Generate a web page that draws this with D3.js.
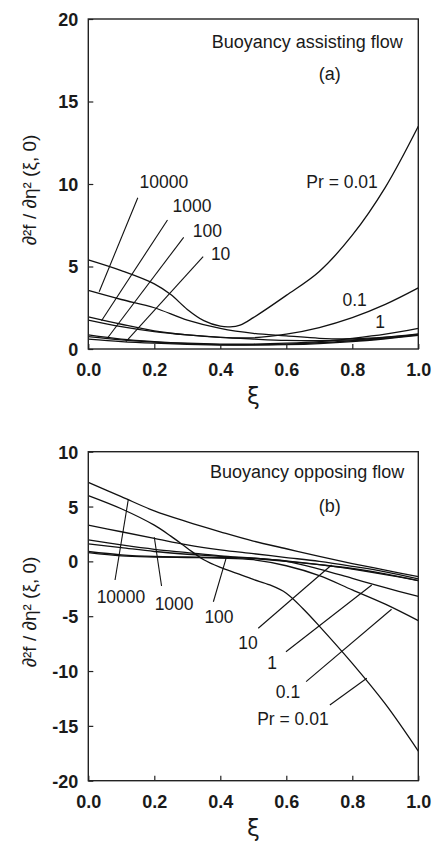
<!DOCTYPE html>
<html>
<head>
<meta charset="utf-8">
<script src="https://cdn.jsdelivr.net/npm/d3@7"></script>
<style>
	body { margin: 0; background: #fff; }
	svg { display: block; }
	.tick text { font-family: "Liberation Sans", Arial, sans-serif; font-weight: bold; font-size: 18px; fill: #1a1a1a; }
	.lbl { font-family: "Liberation Sans", Arial, sans-serif; font-size: 17.5px; fill: #1a1a1a; }
</style>
</head>
<body>
<div id="chart"></div>
<script>
// xi values and f''(xi,0), one array per Prandtl number
var prNames = ["0.01", "0.1", "1", "10", "100", "1000", "10000"];
var xTicks = [0, 0.2, 0.4, 0.6, 0.8, 1.0];
var yTicksA = [0, 5, 10, 15, 20];
var yTicksB = [-20, -15, -10, -5, 0, 5, 10];

// (a) buoyancy assisting flow
var assist001 = [[0,5.4],[0.1,4.75],[0.2,3.95],[0.25,3.3],[0.3,2.4],[0.35,1.72],[0.4,1.38],[0.43,1.34],[0.46,1.45],[0.5,1.9],[0.6,3.25],[0.7,4.7],[0.8,6.9],[0.9,9.8],[1.0,13.5]];
var assist01 = [[0,1.95],[0.1,1.5],[0.2,1.1],[0.3,0.85],[0.4,0.7],[0.5,0.68],[0.6,0.9],[0.7,1.3],[0.8,1.9],[0.9,2.7],[1.0,3.7]];
var assist1 = [[0,0.85],[0.1,0.6],[0.2,0.45],[0.3,0.35],[0.4,0.3],[0.5,0.3],[0.6,0.35],[0.7,0.45],[0.8,0.65],[0.9,0.9],[1.0,1.25]];
var assist10 = [[0,0.6],[0.1,0.45],[0.2,0.35],[0.3,0.28],[0.4,0.24],[0.5,0.23],[0.6,0.26],[0.7,0.33],[0.8,0.45],[0.9,0.62],[1.0,0.82]];
var assist100 = [[0,0.75],[0.1,0.55],[0.2,0.42],[0.3,0.32],[0.4,0.27],[0.5,0.26],[0.6,0.3],[0.7,0.38],[0.8,0.5],[0.9,0.65],[1.0,0.85]];
var assist1000 = [[0,1.75],[0.1,1.35],[0.2,1.05],[0.3,0.85],[0.4,0.7],[0.5,0.6],[0.6,0.52],[0.7,0.5],[0.8,0.55],[0.9,0.7],[1.0,0.88]];
var assist10000 = [[0,3.55],[0.1,3.0],[0.2,2.5],[0.3,1.75],[0.4,1.25],[0.5,0.95],[0.6,0.8],[0.7,0.65],[0.8,0.62],[0.9,0.72],[1.0,0.92]];

// (b) buoyancy opposing flow
var oppose001 = [[0,6.0],[0.1,4.8],[0.2,3.3],[0.25,2.3],[0.3,1.2],[0.35,0.15],[0.4,-0.55],[0.45,-1.1],[0.5,-1.65],[0.55,-2.15],[0.6,-2.9],[0.65,-4.3],[0.7,-5.9],[0.8,-9.3],[0.9,-13.0],[1.0,-17.3]];
var oppose01 = [[0,0.8],[0.1,0.5],[0.2,0.4],[0.3,0.35],[0.4,0.3],[0.5,0.15],[0.6,-0.4],[0.7,-1.3],[0.8,-2.6],[0.9,-3.9],[1.0,-5.4]];
var oppose1 = [[0,0.9],[0.1,0.6],[0.2,0.45],[0.3,0.4],[0.4,0.35],[0.5,0.3],[0.6,0.0],[0.7,-0.7],[0.8,-1.55],[0.9,-2.4],[1.0,-3.2]];
var oppose10 = [[0,1.6],[0.1,1.25],[0.2,0.9],[0.3,0.65],[0.4,0.45],[0.5,0.25],[0.6,0.0],[0.7,-0.3],[0.8,-0.65],[0.9,-1.15],[1.0,-1.75]];
var oppose100 = [[0,1.95],[0.1,1.5],[0.2,1.1],[0.3,0.8],[0.4,0.5],[0.5,0.3],[0.6,0.05],[0.7,-0.3],[0.8,-0.7],[0.9,-1.2],[1.0,-1.75]];
var oppose1000 = [[0,3.3],[0.1,2.7],[0.2,2.1],[0.3,1.5],[0.4,1.05],[0.5,0.7],[0.6,0.35],[0.7,0.0],[0.8,-0.45],[0.9,-0.95],[1.0,-1.6]];
var oppose10000 = [[0,7.2],[0.1,5.9],[0.2,4.6],[0.3,3.6],[0.4,2.7],[0.5,1.85],[0.6,1.15],[0.7,0.45],[0.8,-0.2],[0.9,-0.8],[1.0,-1.4]];

// curve labels: [text, xi, value] and leader lines [[xi,v],[xi,v]]
var labelsA = [["10000",0.229,9.76],["1000",0.314,8.3],["100",0.361,6.79],["10",0.401,5.39],
	["Pr = 0.01",0.769,9.76],["0.1",0.807,2.61],["1",0.884,1.27]];
var leadersA = [[[0.15,9.17],[0.033,3.47]],[[0.24,7.82],[0.04,1.71]],[[0.289,6.77],[0.06,0.71]],[[0.348,5.6],[0.114,0.44]]];
var labelsB = [["10000",0.099,-3.77],["1000",0.26,-4.43],["100",0.396,-5.65],["10",0.484,-8.02],
	["1",0.557,-9.84],["0.1",0.605,-12.49],["Pr = 0.01",0.62,-14.92]];
var leadersB = [[[0.121,5.6],[0.081,-1.7]],[[0.2,2.2],[0.222,-2.25]],[[0.419,0.43],[0.379,-3.68]],
	[[0.737,-0.33],[0.515,-6.1]],[[0.859,-2.15],[0.599,-8.24]],[[0.919,-4.37],[0.66,-10.97]],[[0.844,-10.66],[0.732,-13.1]]];

var W = 432, H = 843;
var svg = d3.select("#chart").append("svg").attr("width", W).attr("height", H);

function drawPanel(cfg){
	var x = d3.scaleLinear().domain([0, 1]).range([88.3, 418.3]);
	var y = d3.scaleLinear().domain(cfg.ydom).range([cfg.bottom, cfg.top]);
	var g = svg.append("g");

	var line = d3.line()
		.x(function(d){ return x(d[0]); })
		.y(function(d){ return y(d[1]); })
		.curve(d3.curveCatmullRom.alpha(0.5));

	g.selectAll("path.curve")
		.data(cfg.series)
		.enter()
		.append("path")
		.attr("class", "curve")
		.attr("d", line)
		.attr("fill", "none")
		.attr("stroke", "#111")
		.attr("stroke-width", 1.3);

	g.selectAll("line.leader")
		.data(cfg.leaders)
		.enter()
		.append("line")
		.attr("class", "leader")
		.attr("x1", function(d){ return x(d[0][0]); })
		.attr("y1", function(d){ return y(d[0][1]); })
		.attr("x2", function(d){ return x(d[1][0]); })
		.attr("y2", function(d){ return y(d[1][1]); })
		.attr("stroke", "#111")
		.attr("stroke-width", 1.1);

	g.selectAll("text.lbl")
		.data(cfg.labels)
		.enter()
		.append("text")
		.attr("class", "lbl")
		.attr("x", function(d){ return x(d[1]); })
		.attr("y", function(d){ return y(d[2]); })
		.attr("text-anchor", "middle")
		.text(function(d){ return d[0]; });

	// axes, ticks pointing inward
	var xa = g.append("g")
		.attr("transform", "translate(0," + cfg.bottom + ")")
		.call(d3.axisBottom(x).tickValues(xTicks).tickFormat(d3.format(".1f")).tickSizeInner(-5).tickSizeOuter(0).tickPadding(10));
	var ya = g.append("g")
		.attr("transform", "translate(" + x(0) + ",0)")
		.call(d3.axisLeft(y).tickValues(cfg.yticks).tickFormat(function(d){ return String(d); }).tickSizeInner(-5).tickSizeOuter(0).tickPadding(10));
	xa.select(".domain").remove();
	ya.select(".domain").remove();
	g.selectAll(".tick line").attr("stroke", "#222").attr("stroke-width", 1.2);
	xa.selectAll(".tick text").attr("dy", "0.95em");
	ya.selectAll(".tick text").attr("dy", "0.36em");

	g.append("rect")
		.attr("x", x(0)).attr("y", cfg.top)
		.attr("width", x(1) - x(0)).attr("height", cfg.bottom - cfg.top)
		.attr("fill", "none")
		.attr("stroke", "#222")
		.attr("stroke-width", 1.4);

	g.append("text")
		.attr("x", x(cfg.title[1])).attr("y", y(cfg.title[2]))
		.style("font-family", "Liberation Sans, Arial, sans-serif")
		.style("font-size", "18px").style("fill", "#1a1a1a")
		.text(cfg.title[0]);
	g.append("text")
		.attr("x", x(cfg.tag[1])).attr("y", y(cfg.tag[2]))
		.attr("text-anchor", "middle")
		.style("font-family", "Liberation Sans, Arial, sans-serif")
		.style("font-size", "18px").style("fill", "#1a1a1a")
		.text(cfg.tag[0]);

	// axis titles
	g.append("text")
		.attr("x", x(0.5)).attr("y", cfg.bottom + 55)
		.attr("text-anchor", "middle")
		.style("font-family", "DejaVu Sans, sans-serif")
		.style("font-size", "23px").style("fill", "#1a1a1a")
		.text("ξ");
	g.append("text")
		.attr("transform", "translate(36," + cfg.ylabelY + ")rotate(-90)")
		.attr("text-anchor", "middle")
		.style("font-family", "Liberation Sans, Arial, sans-serif")
		.style("font-size", "19px").style("fill", "#1a1a1a")
		.text("∂²f / ∂η² (ξ, 0)");
}

drawPanel({
	ydom: [0, 20], top: 19, bottom: 349, yticks: yTicksA,
	series: [assist001, assist01, assist1, assist10, assist100, assist1000, assist10000],
	labels: labelsA, leaders: leadersA,
	title: ["Buoyancy assisting flow", 0.374, 18.22], tag: ["(a)", 0.732, 16.3],
	ylabelY: 190
});
drawPanel({
	ydom: [-20, 10], top: 451.7, bottom: 780.7, yticks: yTicksB,
	series: [oppose001, oppose01, oppose1, oppose10, oppose100, oppose1000, oppose10000],
	labels: labelsB, leaders: leadersB,
	title: ["Buoyancy opposing flow", 0.369, 7.57], tag: ["(b)", 0.732, 4.53],
	ylabelY: 612
});
</script>
</body>
</html>
